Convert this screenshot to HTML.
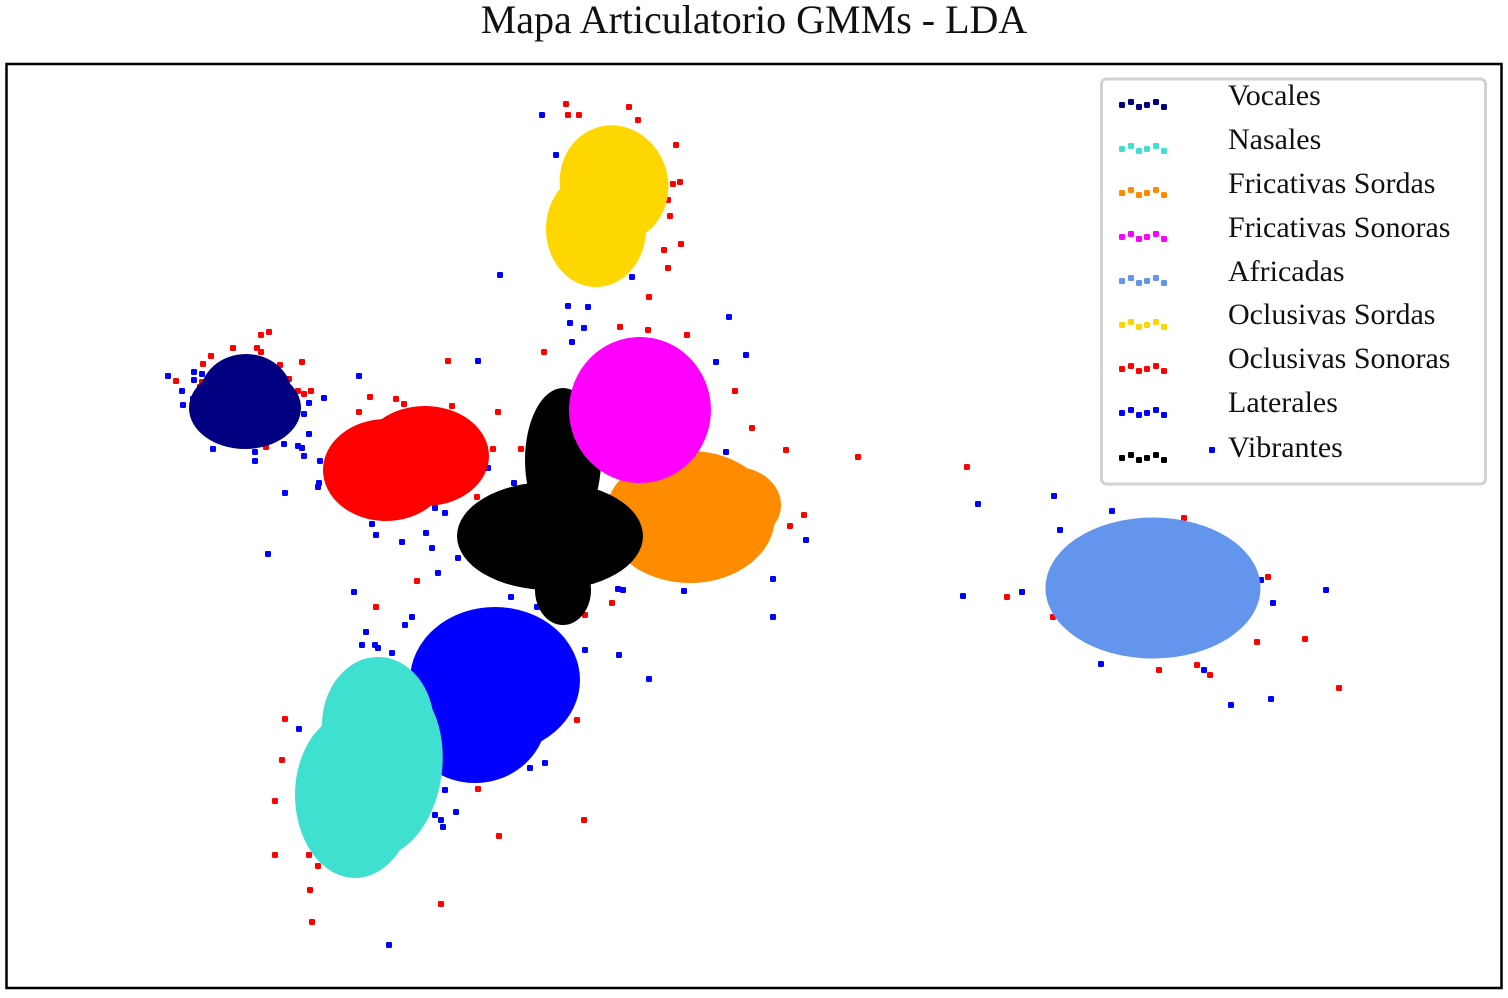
<!DOCTYPE html>
<html lang="es">
<head>
<meta charset="utf-8">
<title>Mapa Articulatorio GMMs - LDA</title>
<style>
html,body{margin:0;padding:0;background:#fff;width:1508px;height:998px;overflow:hidden}
svg{display:block}
text{font-family:"Liberation Serif",serif;fill:#111}
</style>
</head>
<body>
<svg id="chart" width="1508" height="998" viewBox="0 0 1508 998" xmlns="http://www.w3.org/2000/svg">
  <text x="754" y="33" text-anchor="middle" font-size="40">Mapa Articulatorio GMMs - LDA</text>
  <g id="points"></g>
  <g id="blobs"></g>
  <rect x="6.5" y="64" width="1495" height="924" fill="none" stroke="#000" stroke-width="2.5"/>
  <g>
    <rect x="1101.5" y="79" width="384" height="405" rx="5" fill="#fff" stroke="#d2d2d2" stroke-width="3"/>
    <g id="legend-markers"></g>
    <rect x="1209" y="447" width="6" height="6" rx="1" fill="#0000ff"/>
    <g font-size="30">
      <text x="1228" y="105">Vocales</text>
      <text x="1228" y="149">Nasales</text>
      <text x="1228" y="193">Fricativas Sordas</text>
      <text x="1228" y="237">Fricativas Sonoras</text>
      <text x="1228" y="281">Africadas</text>
      <text x="1228" y="324">Oclusivas Sordas</text>
      <text x="1228" y="368">Oclusivas Sonoras</text>
      <text x="1228" y="412">Laterales</text>
      <text x="1228" y="457">Vibrantes</text>
    </g>
  </g>
</svg>
<script>
// Data: LDA-space values, each region is a set of Gaussian components [cx, cy, rx, ry, angle]
const categories = ["vocales","nasales","fricativas-sordas","fricativas-sonoras","africadas","oclusivas-sordas","oclusivas-sonoras","laterales","vibrantes"];
const colors = {"vocales":"#000080","nasales":"#40e0d0","fricativas-sordas":"#ff8c00","fricativas-sonoras":"#ff00ff","africadas":"#6495ed","oclusivas-sordas":"#ffd700","oclusivas-sonoras":"#ff0000","laterales":"#0000ff","vibrantes":"#000000"};
const drawOrder = ["vocales","oclusivas-sonoras","laterales","nasales","fricativas-sordas","vibrantes","fricativas-sonoras","africadas","oclusivas-sordas"];
const vocalesComponents = [[24.6,39.5,4.6,4.1,0],[24.5,40.8,5.6,4.1,0]];
const nasalesComponents = [[37.8,72.5,5.6,6.8,0],[38.3,76.8,5.9,9,8],[35.5,79.5,6,8.3,0]];
const fricativasSordasComponents = [[69,51.7,8.5,6.6,0],[73.5,50.5,4.6,3.8,0]];
const fricativasSonorasComponents = [[64,41,7.1,7.3,0]];
const africadasComponents = [[115.3,58.8,10.75,7.05,0]];
const oclusivasSordasComponents = [[61.4,18.4,5.4,5.9,-15],[59.6,22.9,5,5.8,0]];
const oclusivasSonorasComponents = [[38.6,47,6.3,5.1,0],[42.5,45.6,6.4,5,0]];
const lateralesComponents = [[49.5,68,8.5,7.3,0],[47.5,71.5,7.2,6.8,0]];
const vibrantesComponents = [[55,53.6,9.3,5.4,0],[56.3,46,3.8,7.2,0],[56.3,59,2.8,3.5,0]];
const componentsByCategory = {"vocales":vocalesComponents,"nasales":nasalesComponents,"fricativas-sordas":fricativasSordasComponents,"fricativas-sonoras":fricativasSonorasComponents,"africadas":africadasComponents,"oclusivas-sordas":oclusivasSordasComponents,"oclusivas-sonoras":oclusivasSonorasComponents,"laterales":lateralesComponents,"vibrantes":vibrantesComponents};
const redSamples = [[56.6,10.4],[62.9,10.7],[56.8,11.5],[57.9,11.5],[63.8,12],[67.6,14.5],[68,18.2],[67.3,18.4],[66.8,20],[67,21.6],[66.4,25],[68.1,24.4],[66.8,26.8],[64.9,29.7],[62,32.7],[64.8,33],[68.7,33.5],[54.4,35.2],[73.5,39.1],[75.2,42.8],[78.6,45],[85.8,45.7],[96.7,46.7],[80.4,51.5],[79,52.6],[118.4,51.8],[126.8,57.7],[100.7,59.7],[105.3,61.7],[125.7,64.2],[130.5,63.9],[133.9,68.8],[115.9,67],[119.7,66.5],[121,67.5],[26.1,33.5],[26.9,33.2],[23.3,34.8],[25.7,34.8],[26.1,35.2],[21.1,35.6],[20.3,36.4],[28,36.5],[30.2,36.2],[17.6,38.1],[20.2,38.2],[20,38.7],[19.8,39.3],[28.9,37.9],[29.8,39.1],[30.4,39.4],[31.1,39.1],[26.6,44.7],[44.8,36.1],[37,39.7],[39.6,39.9],[40.4,40.4],[45.2,40.6],[35.9,41.2],[49.8,41.2],[49.3,44.9],[52.1,44.9],[47.7,49.7],[41.7,58.1],[37.6,60.7],[28.5,71.9],[28.2,76],[27.5,80.1],[27.5,85.5],[31,89],[31.2,92.2],[44.1,90.4],[49.9,83.6],[58.4,82],[47.8,78.9],[57.7,72],[30.9,85.5],[31.8,86.6],[61.2,60.3],[58.5,61.5]];
const blueSamples = [[54.2,11.5],[55.6,15.5],[50,27.5],[63.2,27.7],[56.8,30.6],[58.8,30.7],[57,32.3],[58.4,32.8],[57.2,34.2],[72.9,31.7],[74.6,35.5],[71.6,36.2],[72.6,45.2],[97.8,50.4],[105.4,49.6],[111.2,51.1],[106,53],[80.6,54],[77.3,57.9],[77.3,61.7],[68.4,59.1],[62.3,59],[61.8,58.9],[64.9,67.9],[61.9,65.5],[58.5,65],[96.3,59.6],[102.2,59.2],[132.6,59],[127.3,60.3],[126.1,58],[110.1,66.4],[120.4,67],[123.1,70.5],[127.1,69.9],[16.8,37.6],[19.4,37.2],[20.2,37.4],[19.4,38],[18.2,39.1],[19.3,39.9],[18.3,40.5],[30.9,40.3],[32.4,39.8],[30.4,41.4],[30.9,43.4],[21.3,44.9],[25.5,45.2],[25.5,46.1],[28.4,44.4],[29.8,44.6],[30.2,44.8],[30.4,45.6],[32,46.1],[31.9,48.3],[31.8,48.7],[28.5,49.3],[35.9,37.6],[47.8,36.1],[48.8,46.8],[43.5,50.8],[44.5,51.3],[37.2,52.4],[37.6,53.5],[40.2,54.2],[42.6,53.3],[43.2,54.8],[45.8,55.8],[43.8,57.3],[26.8,55.4],[35.4,59.2],[51.1,59.7],[41.2,61.7],[53.7,60.7],[51.4,48.3],[37.5,64.5],[36.6,63.2],[36.2,64.5],[37.8,64.8],[39.2,65.3],[40.5,62.5],[29.9,72.9],[54.5,76.3],[53,76.8],[44.5,79],[43.5,81.5],[44.1,82],[45.6,81.2],[44.3,82.7],[38.9,94.5]];
const samplesByCategory = {"oclusivas-sonoras":redSamples,"laterales":blueSamples};
const xDomain = [0.7,150.1];
const yDomain = [6.4,98.8];
const xRange = [7,1501];
const yRange = [64,988];
function xScale(v){return xRange[0]+(v-xDomain[0])/(xDomain[1]-xDomain[0])*(xRange[1]-xRange[0]);}
function yScale(v){return yRange[0]+(v-yDomain[0])/(yDomain[1]-yDomain[0])*(yRange[1]-yRange[0]);}
function xLen(v){return v/(xDomain[1]-xDomain[0])*(xRange[1]-xRange[0]);}
function yLen(v){return v/(yDomain[1]-yDomain[0])*(yRange[1]-yRange[0]);}
const NS = "http://www.w3.org/2000/svg";
const pointsGroup = document.getElementById("points");
const blobsGroup = document.getElementById("blobs");
const legendGroup = document.getElementById("legend-markers");
Object.keys(samplesByCategory).forEach(function(cat){
  samplesByCategory[cat].forEach(function(p){
    const r = document.createElementNS(NS,"rect");
    
    
    r.setAttribute("x", xScale(p[0])-3);
    r.setAttribute("y", yScale(p[1])-3);
    r.setAttribute("width", 6);
    r.setAttribute("height", 6);
    r.setAttribute("rx", 1.2);
    r.setAttribute("fill", colors[cat]);
    pointsGroup.appendChild(r);
  });
});
drawOrder.forEach(function(cat){
  const g = document.createElementNS(NS,"g");
  
  
  g.setAttribute("fill", colors[cat]);
  componentsByCategory[cat].forEach(function(c){
    const e = document.createElementNS(NS,"ellipse");
    
    
    const cx = xScale(c[0]), cy = yScale(c[1]);
    e.setAttribute("cx", cx);
    e.setAttribute("cy", cy);
    e.setAttribute("rx", xLen(c[2]));
    e.setAttribute("ry", yLen(c[3]));
    if(c[4]) e.setAttribute("transform", "rotate(" + c[4] + " " + cx + " " + cy + ")");
    g.appendChild(e);
  });
  blobsGroup.appendChild(g);
});
const glyphDots = [[0,3],[9,0],[17,5],[25,3],[34,0],[42,5]];
const legendRowTop = [102,146,190,234,278,322,366,410,455];
categories.forEach(function(cat,i){
  const g = document.createElementNS(NS,"g");
  
  
  g.setAttribute("fill", colors[cat]);
  glyphDots.forEach(function(d){
    const r = document.createElementNS(NS,"rect");
    
    
    r.setAttribute("x", 1122+d[0]-3);
    r.setAttribute("y", legendRowTop[i]+d[1]-3);
    r.setAttribute("width", 6);
    r.setAttribute("height", 6);
    r.setAttribute("rx", 1.2);
    g.appendChild(r);
  });
  legendGroup.appendChild(g);
});
</script>
</body>
</html>
